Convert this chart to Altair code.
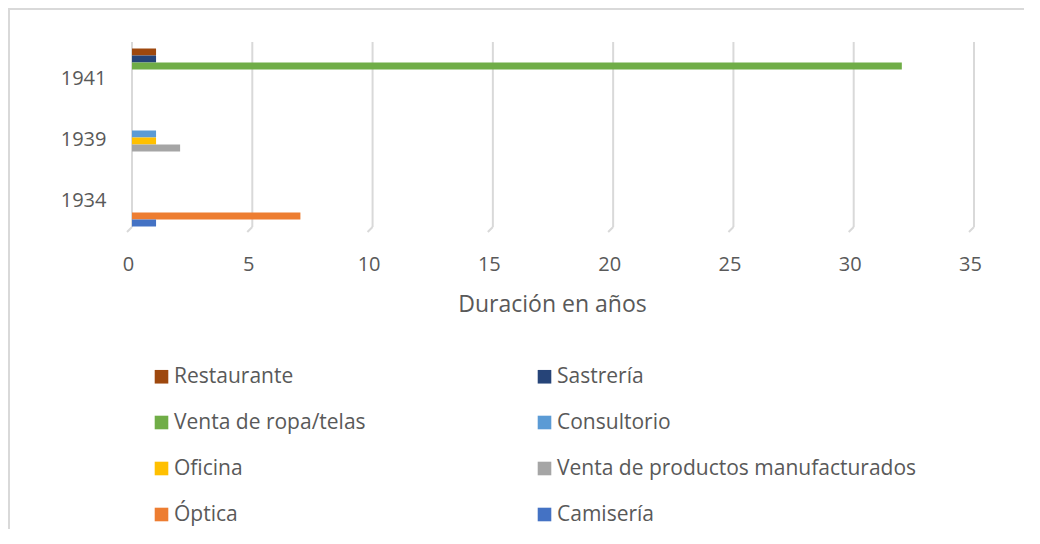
import altair as alt
import pandas as pd

# ---- data ----
years = ["1941", "1939", "1934"]
series = ["Restaurante", "Sastrería", "Venta de ropa/telas", "Consultorio",
          "Oficina", "Venta de productos manufacturados", "Óptica", "Camisería"]
colors = ["#9E480E", "#264478", "#70AD47", "#5B9BD5",
          "#FFC000", "#A5A5A5", "#ED7D31", "#4472C4"]
bar_year = ["1941", "1941", "1941", "1939", "1939", "1939", "1934", "1934"]
bar_type = ["Restaurante", "Sastrería", "Venta de ropa/telas", "Consultorio",
            "Oficina", "Venta de productos manufacturados", "Óptica", "Camisería"]
bar_value = [1, 1, 32, 1, 1, 2, 7, 1]
ticks = [0, 5, 10, 15, 20, 25, 30, 35]

df = pd.DataFrame({"year": bar_year, "tipo": bar_type, "value": bar_value})
tick_df = pd.DataFrame({"t": ticks})
dummy = pd.DataFrame({"a": [0]})

# legend is filled column by column: reorder so it reads row by row like the reference
legend_order = series[0::2] + series[1::2]
legend_colors = [colors[series.index(s)] for s in legend_order]

W, H = 842, 183
FONT = "Open Sans"
TXT = "#595959"
GRID = "#D9D9D9"

xscale = alt.Scale(domain=[0, 35], nice=False, zero=True)
xaxis = alt.Axis(values=ticks, title="Duración en años", grid=False,
                 domain=False, ticks=False, tickSize=0, labelFlush=False,
                 labelPadding=25, labelOffset=-4,
                 labelFont=FONT, labelFontSize=20, labelColor=TXT,
                 titleFont=FONT, titleFontSize=23, titleColor=TXT,
                 titleFontWeight="normal", titleBaseline="alphabetic",
                 titleY=82, titleX=420, titleAlign="center")

grid = alt.Chart(tick_df).mark_rule(color=GRID, strokeWidth=2).encode(
    x=alt.X("t:Q", scale=xscale, axis=xaxis),
    y=alt.value(-4),
    y2=alt.value(H - 2),
)
slant = alt.Chart(tick_df).mark_rule(color=GRID, strokeWidth=2, x2Offset=-5).encode(
    x=alt.X("t:Q", scale=xscale, axis=xaxis),
    x2="t:Q",
    y=alt.value(H - 2),
    y2=alt.value(H + 3),
)

bars = alt.Chart(df).mark_bar().encode(
    x=alt.X("value:Q", scale=xscale, axis=xaxis),
    y=alt.Y("year:N", sort=years,
            scale=alt.Scale(domain=years, paddingInner=0.082, paddingOuter=0.041),
            axis=alt.Axis(title=None, grid=False, domain=False, ticks=False,
                          tickSize=0, labelPadding=26, labelOffset=2,
                          labelFont=FONT, labelFontSize=20, labelColor=TXT)),
    yOffset=alt.YOffset("tipo:N", sort=series,
                        scale=alt.Scale(domain=series, paddingInner=0, paddingOuter=0)),
    color=alt.Color("tipo:N",
                    scale=alt.Scale(domain=legend_order, range=legend_colors),
                    legend=alt.Legend(title=None, orient="none", legendX=19, legendY=320,
                                      columns=2, columnPadding=168, rowPadding=24,
                                      symbolType="square", symbolSize=185,
                                      symbolStrokeWidth=0, labelOffset=2,
                                      labelFont=FONT, labelFontSize=21,
                                      labelColor=TXT, padding=0, labelLimit=500)),
)

border_top = alt.Chart(dummy).mark_rule(color=GRID, strokeWidth=2).encode(
    x=alt.value(-124), x2=alt.value(W + 50), y=alt.value(-37))
border_left = alt.Chart(dummy).mark_rule(color=GRID, strokeWidth=2).encode(
    x=alt.value(-123), y=alt.value(-38), y2=alt.value(H + 300))

chart = alt.layer(border_top, border_left, grid, slant, bars).properties(
    width=W, height=H,
    autosize=alt.AutoSizeParams(type="none"),
    padding={"left": 124, "top": 38, "right": 50, "bottom": 300},
).configure_view(stroke=None)

chart.save("out.html", embed_options={"renderer": "svg", "actions": False})
